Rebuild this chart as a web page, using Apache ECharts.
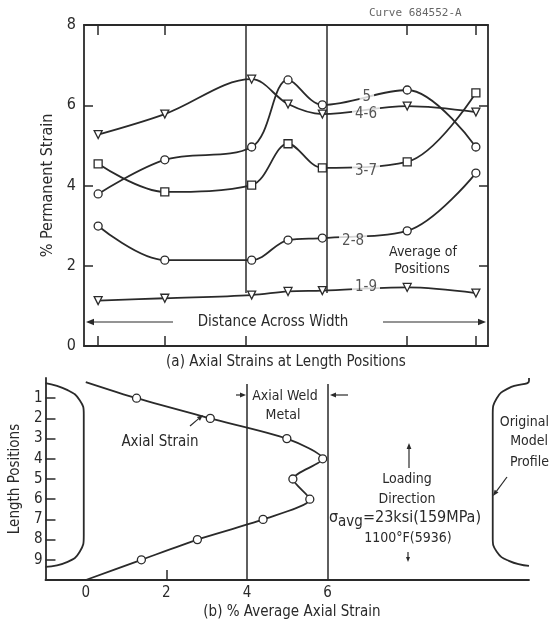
<!DOCTYPE html>
<html><head><meta charset="utf-8">
<script src="https://cdn.jsdelivr.net/npm/echarts@6/dist/echarts.min.js"></script>
<style>html,body{margin:0;padding:0;background:#fff}#c{width:549px;height:626px}</style>
</head><body><div id="c"></div>
<script>
// ---------- (a) Axial strains at length positions ----------
const widthPositions = [0.35, 2, 4.15, 5.05, 5.9, 8, 9.7];
const strain5  = [3.79, 4.64, 4.96, 6.63, 6.01, 6.38, 4.96];
const strain46 = [5.27, 5.78, 6.65, 6.03, 5.78, 5.98, 5.83];
const strain37 = [4.54, 3.84, 4.01, 5.04, 4.44, 4.59, 6.31];
const strain28 = [2.99, 2.14, 2.14, 2.64, 2.69, 2.87, 4.31];
const strain19 = [1.13, 1.19, 1.27, 1.36, 1.38, 1.46, 1.32];
const curveNames = ['5', '4-6', '3-7', '2-8', '1-9'];
const curveLabelAt = [[7.0, 6.21], [6.98, 5.79], [6.98, 4.37], [6.66, 2.62], [6.98, 1.47]];
const strainTicks = [0, 2, 4, 6, 8];
const widthTicks = [0.35, 2, 4, 8, 9.7];
const weldBounds = [4, 6];
// ---------- (b) % average axial strain ----------
const lengthPositions = [1, 2, 3, 4, 5, 6, 7, 8, 9];
const avgAxialStrain = [1.26, 3.09, 4.99, 5.88, 5.14, 5.56, 4.40, 2.77, 1.38];
const curveStart = [0, 0.2];
const curveEnd = [0, 10];
const avgStrainLabels = [0, 2, 4, 6];
const leftProfile = [[-1, 0.25], [-0.45, 0.6], [-0.15, 1.1], [-0.05, 1.8], [-0.05, 7.8], [-0.15, 8.6], [-0.45, 9.1], [-1, 9.35]];
const rightProfile = [[11, 0.0], [11, 0.15], [10.5, 0.5], [10.2, 1.0], [10.1, 1.8], [10.1, 7.9], [10.2, 8.6], [10.5, 9.05], [11, 9.3]];

const FONT = "'DejaVu Sans Condensed','Liberation Sans Narrow',sans-serif";
const INK = '#2a2a2a';
const chart = echarts.init(document.getElementById('c'), null, {renderer: 'canvas'});

function lineSeries(name, vals, symbol, rotate) {
  return {
    name, type: 'line', xAxisIndex: 0, yAxisIndex: 0,
    data: widthPositions.map((x, i) => [x, vals[i]]),
    smooth: 0.35, symbol, symbolSize: 8, symbolRotate: rotate || 0,
    lineStyle: {color: INK, width: 1.8},
    itemStyle: {color: '#fff', borderColor: INK, borderWidth: 1.3},
    z: 3
  };
}

function arrow(x1, y1, x2, y2, head) {
  head = head || 7;
  const a = Math.atan2(y2 - y1, x2 - x1);
  const w = head * 0.4;
  const bx = x2 - head * Math.cos(a), by = y2 - head * Math.sin(a);
  return [
    {type: 'line', shape: {x1, y1, x2: bx, y2: by}, style: {stroke: INK, lineWidth: 1.2}, z: 10},
    {type: 'polygon', shape: {points: [[x2, y2], [bx + w * Math.sin(a), by - w * Math.cos(a)], [bx - w * Math.sin(a), by + w * Math.cos(a)]]}, style: {fill: INK}, z: 10}
  ];
}
function txt(x, y, text, size, align, extra) {
  return Object.assign({type: 'text', x, y, z: 10,
    style: Object.assign({text, font: (size || 15) + 'px ' + FONT, fill: INK, align: align || 'center', verticalAlign: 'middle'}, extra || {})});
}

const axisLine = {show: true, onZero: false, lineStyle: {color: INK, width: 1.8}};
const tickStyle = {color: INK, width: 1.5};

const option = {
  backgroundColor: '#fff',
  animation: false,
  grid: [
    {left: 84, top: 25, width: 404, height: 321},
    {left: 44, top: 378, width: 485, height: 202}
  ],
  xAxis: [
    {gridIndex: 0, type: 'value', min: 0, max: 10, position: 'bottom', axisLine, splitLine: {show: false},
      axisTick: {show: true, inside: true, length: 10, customValues: widthTicks, lineStyle: tickStyle},
      axisLabel: {show: false}},
    {gridIndex: 0, type: 'value', min: 0, max: 10, position: 'top', axisLine, splitLine: {show: false},
      axisTick: {show: true, inside: true, length: 10, customValues: widthTicks.filter(v => v !== 4), lineStyle: tickStyle},
      axisLabel: {show: false}},
    {gridIndex: 1, type: 'value', min: -1, max: 11, interval: 1, position: 'bottom', axisLine, splitLine: {show: false},
      axisTick: {show: true, inside: true, length: 10, customValues: [2], lineStyle: tickStyle},
      axisLabel: {show: true, color: INK, fontFamily: FONT, fontSize: 15, margin: 6, customValues: avgStrainLabels}}
  ],
  yAxis: [
    {gridIndex: 0, type: 'value', min: 0, max: 8, interval: 2, position: 'left', axisLine, splitLine: {show: false},
      axisTick: {show: true, inside: true, length: 9, customValues: strainTicks.slice(1, 4), lineStyle: tickStyle},
      axisLabel: {color: INK, fontFamily: FONT, fontSize: 16, margin: 8, customValues: strainTicks},
      name: '% Permanent Strain', nameLocation: 'middle', nameRotate: 90, nameGap: 27,
      nameTextStyle: {color: INK, fontFamily: FONT, fontSize: 16}},
    {gridIndex: 0, type: 'value', min: 0, max: 8, interval: 2, position: 'right', axisLine, splitLine: {show: false},
      axisTick: {show: true, inside: true, length: 9, customValues: strainTicks.slice(1, 4), lineStyle: tickStyle},
      axisLabel: {show: false}},
    {gridIndex: 1, type: 'value', min: 0, max: 10, interval: 1, inverse: true, position: 'left', axisLine, splitLine: {show: false},
      axisTick: {show: true, inside: true, length: 10, customValues: lengthPositions, lineStyle: tickStyle},
      axisLabel: {color: INK, fontFamily: FONT, fontSize: 15, margin: 3, customValues: lengthPositions},
      name: 'Length Positions', nameLocation: 'middle', nameRotate: 90, nameGap: 21,
      nameTextStyle: {color: INK, fontFamily: FONT, fontSize: 15}}
  ],
  series: [
    lineSeries('5', strain5, 'circle'),
    lineSeries('4-6', strain46, 'triangle', 180),
    lineSeries('3-7', strain37, 'rect'),
    lineSeries('2-8', strain28, 'circle'),
    lineSeries('1-9', strain19, 'triangle', 180),
    {
      type: 'scatter', xAxisIndex: 0, yAxisIndex: 0, symbolSize: 0, z: 5,
      data: curveNames.map((n, i) => ({value: curveLabelAt[i], name: n})),
      label: {show: true, position: 'inside', formatter: p => p.name, color: INK, fontFamily: FONT, fontSize: 15,
        backgroundColor: '#fff', padding: [0, 3]}
    },
    {
      type: 'line', xAxisIndex: 0, yAxisIndex: 0, data: [], silent: true,
      markLine: {symbol: 'none', silent: true, label: {show: false}, lineStyle: {color: INK, width: 1.5, type: 'solid'},
        data: weldBounds.map(v => [{coord: [v, 1.32]}, {coord: [v, 8]}])}
    },
    {
      type: 'line', xAxisIndex: 2, yAxisIndex: 2, data: [], silent: true,
      markLine: {symbol: 'none', silent: true, label: {show: false}, lineStyle: {color: INK, width: 1.5, type: 'solid'},
        data: weldBounds.map(v => [{coord: [v, 0.3]}, {coord: [v, 10]}])}
    },
    {
      name: 'Axial Strain', type: 'line', xAxisIndex: 2, yAxisIndex: 2, smooth: 0.25,
      data: [{value: curveStart, symbol: 'none'}]
        .concat(lengthPositions.map((p, i) => [avgAxialStrain[i], p]))
        .concat([{value: curveEnd, symbol: 'none'}]),
      symbol: 'circle', symbolSize: 8,
      lineStyle: {color: INK, width: 1.8},
      itemStyle: {color: '#fff', borderColor: INK, borderWidth: 1.3}, z: 3
    },
    {type: 'line', xAxisIndex: 2, yAxisIndex: 2, data: leftProfile, smooth: 0.5, symbol: 'none', lineStyle: {color: INK, width: 1.8}},
    {type: 'line', xAxisIndex: 2, yAxisIndex: 2, data: rightProfile, smooth: 0.5, symbol: 'none', lineStyle: {color: INK, width: 1.8}}
  ],
  graphic: [].concat(
    [txt(369, 13, 'Curve 684552-A', 11, 'left', {font: "11px 'DejaVu Sans Mono',monospace", fill: '#666'})],
    arrow(173, 322, 86, 322, 8),
    arrow(383, 322, 486, 322, 8),
    [txt(273, 322, 'Distance Across Width', 15)],
    [txt(423, 252, 'Average of', 14), txt(422, 269, 'Positions', 14)],
    [txt(286, 362, '(a) Axial Strains at Length Positions', 15)],
    // (b) annotations
    [txt(160, 442, 'Axial Strain', 15)],
    arrow(190, 426, 203, 415, 6),
    arrow(236, 395, 246, 395, 6),
    arrow(348, 395, 330, 395, 6),
    [txt(285, 396, 'Axial Weld', 14), txt(283, 415, 'Metal', 14)],
    [txt(549, 422, 'Original', 14, 'right'), txt(548, 441, 'Model', 14, 'right'), txt(549, 462, 'Profile', 14, 'right')],
    arrow(507, 477, 493, 496, 6),
    arrow(409, 468, 409, 443, 6),
    [txt(407, 479, 'Loading', 14), txt(407, 499, 'Direction', 14)],
    [{type: 'text', x: 405, y: 518, z: 10, style: {
      text: '{s|σ}{sub|avg}{n|=23ksi(159MPa)}', align: 'center', verticalAlign: 'middle',
      rich: {
        s: {font: '16px ' + FONT, fill: INK},
        sub: {font: '15px ' + FONT, fill: INK, padding: [8, 0, 0, 0]},
        n: {font: '16px ' + FONT, fill: INK}
      }}}],
    [txt(408, 538, '1100°F(5936)', 14)],
    arrow(408, 552, 408, 562, 5),
    [txt(292, 612, '(b) % Average Axial Strain', 15)]
  )
};
chart.setOption(option);
</script>
</body></html>
